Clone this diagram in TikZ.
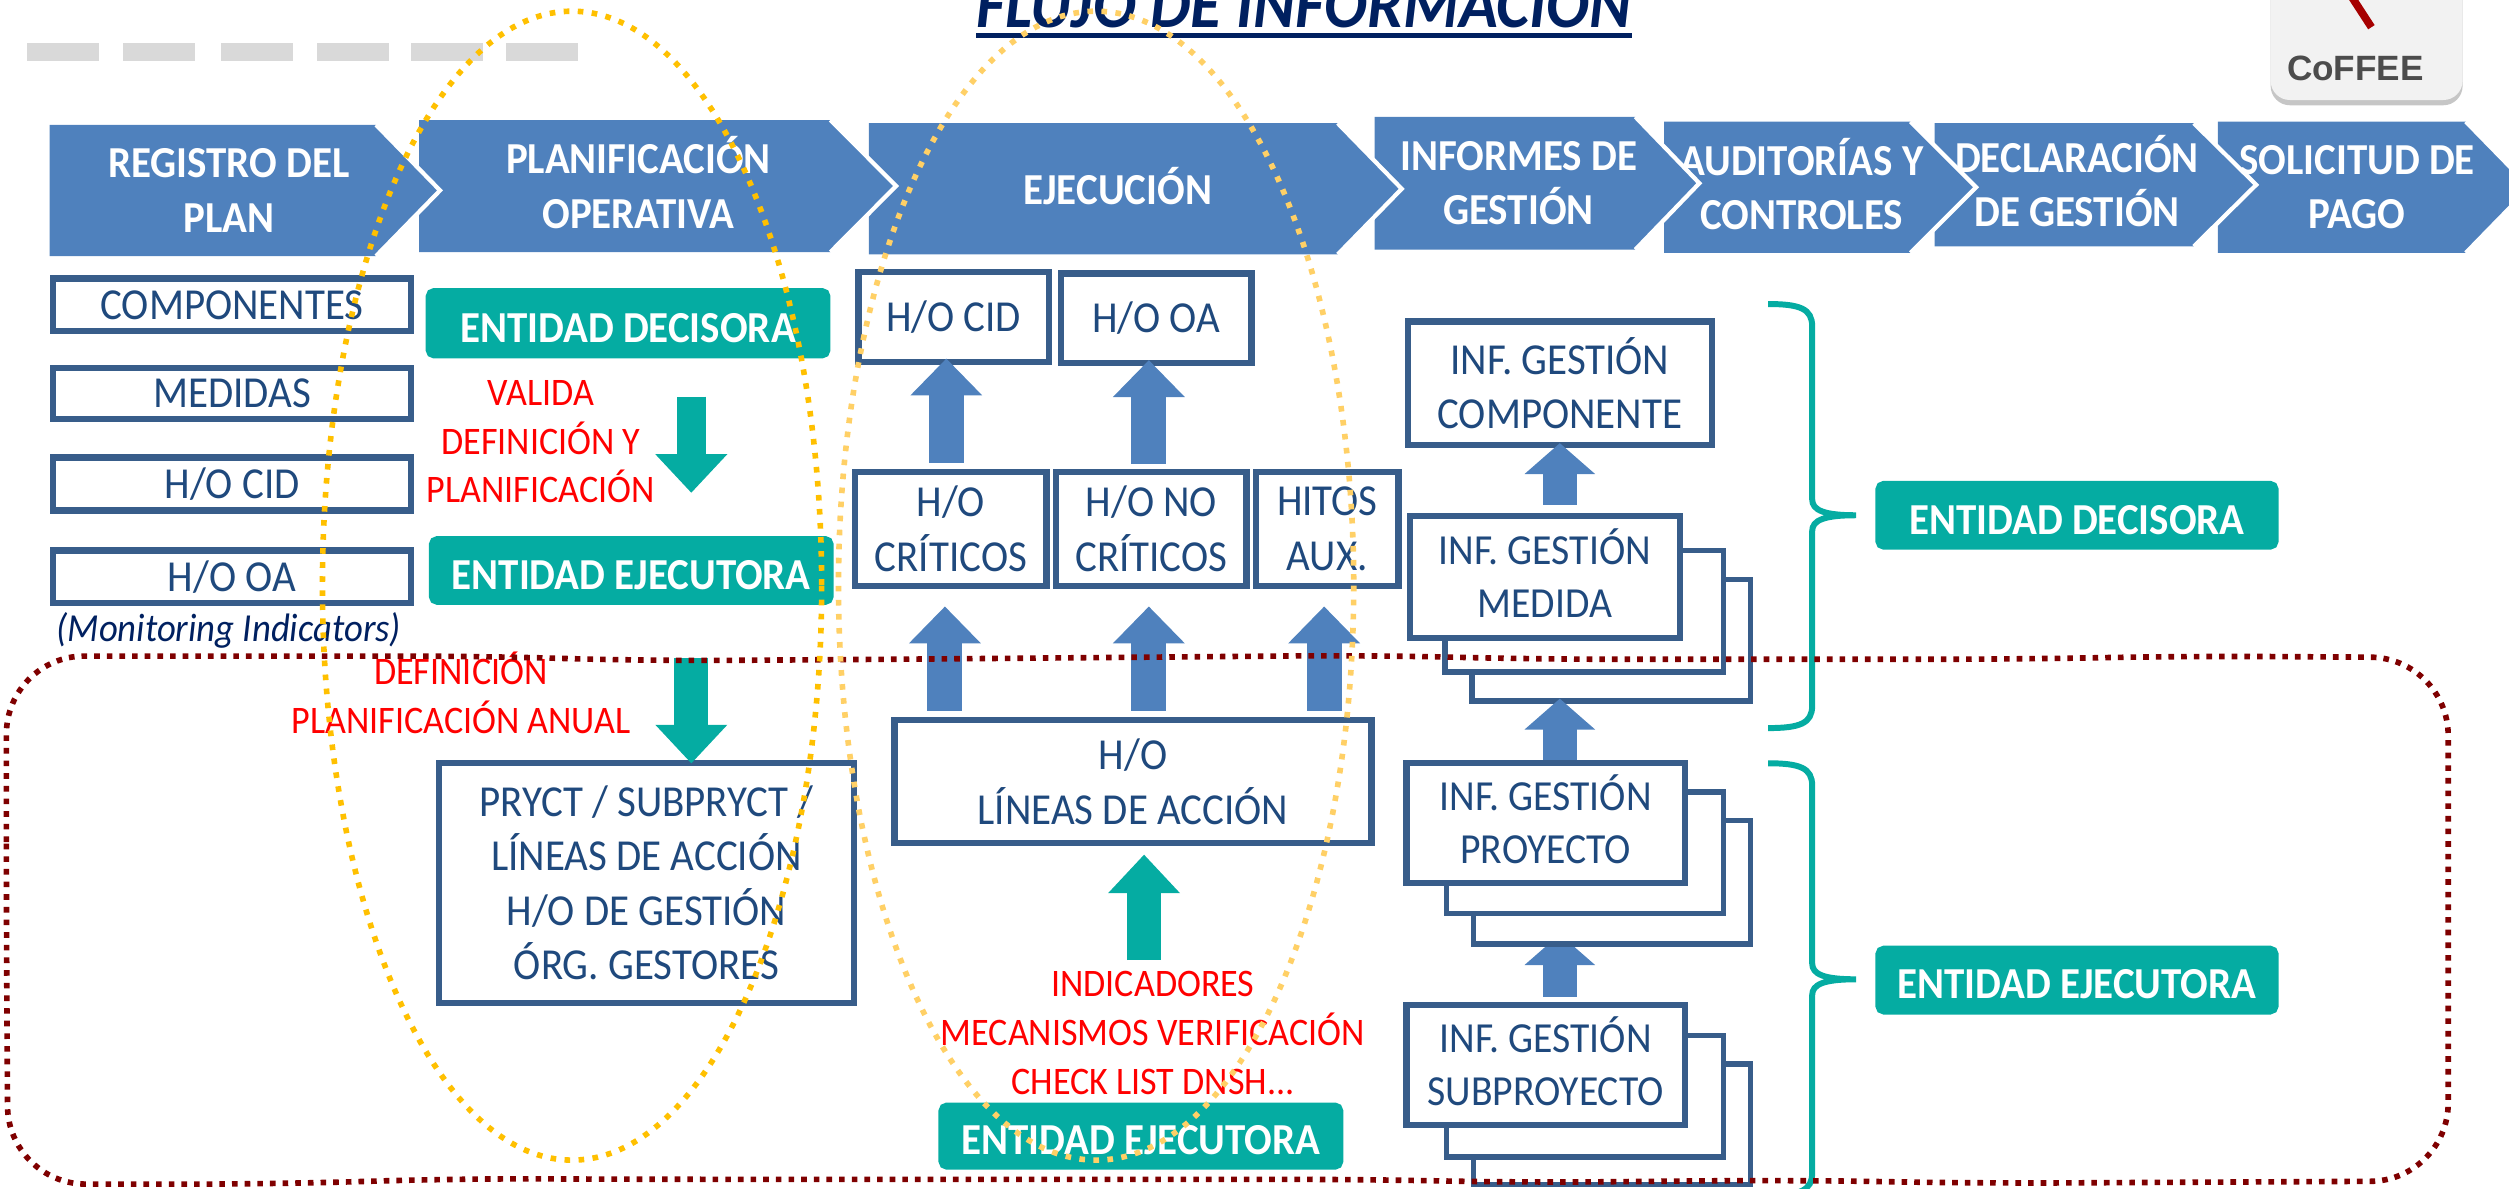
\documentclass[tikz,border=0pt]{standalone}
\usepackage{fontspec}
\setmainfont[FakeStretch=0.925]{Carlito}
\newfontfamily\tilefont{Liberation Sans}
\usetikzlibrary{arrows.meta,shapes.geometric,shadows,backgrounds}
\definecolor{chevblue}{HTML}{4F81BD}
\definecolor{boxnavy}{HTML}{385D8A}
\definecolor{boxtext}{HTML}{1F497D}
\definecolor{titlenavy}{HTML}{002060}
\definecolor{tealgreen}{HTML}{05ACA2}
\definecolor{loopred}{HTML}{7F0000}
\definecolor{ringgold}{HTML}{FFC000}
\definecolor{ringpale}{HTML}{FFD066}
\definecolor{dashgray}{HTML}{D9D9D9}
\def\pxu{0.016cm}
\tikzset{
  wh/.style 2 args={minimum width=#1*\pxu-1.8pt,minimum height=#2*\pxu-1.8pt},
  chevtxt/.style={text=white,font=\fontsize{12.6}{15.5}\selectfont\bfseries,align=center,inner sep=0pt},
  infobox/.style={draw=boxnavy,line width=1.8pt,fill=white,text=boxtext,inner sep=0pt,align=center,
    font=\fontsize{12.6}{15.5}\selectfont},
  stackback/.style={draw=boxnavy,line width=1.5pt,fill=white},
  stackfront/.style={infobox,text depth=2.3pt,font=\fontsize{12.2}{15}\selectfont},
  tealbox/.style={draw=tealgreen,line width=1.8pt,fill=tealgreen,rounded corners=1.5pt,text=white,inner sep=0pt,
    align=center,text height=10.8pt,font=\fontsize{12.6}{14}\selectfont\bfseries},
  redtxt/.style={text=red,align=center,inner sep=0pt,font=\fontsize{11.1}{13.9}\selectfont},
  upblue/.style={chevblue,line width=10pt,-{Triangle[width=19.8pt,length=10.5pt]}},
  upsmall/.style={chevblue,line width=9.8pt,-{Triangle[width=19.6pt,length=8.8pt]}},
  upteal/.style={tealgreen,line width=9.6pt,-{Triangle[width=19.8pt,length=11pt]}},
  bracket/.style={tealgreen,line width=1.7pt},
  ring/.style={line width=1.6pt,dash pattern=on 1.6pt off 2.4pt}
}
\begin{document}
\begin{tikzpicture}[x=0.016cm,y=-0.016cm]
  \useasboundingbox (0,0) rectangle (1568,743);
  \clip (0,0) rectangle (1568,743);

  % Top strip
  \foreach \x in {17,77,138,198,257,316}
    \fill[dashgray] (\x,27) rectangle (\x+45,38);
  \node[anchor=base,text=titlenavy,inner sep=0pt,font=\fontsize{19.7}{22}\selectfont\bfseries\itshape] (title) at (815,17) {FLUJO DE INFORMACIÓN};
  \draw[titlenavy,line width=1.4pt] (610,22) -- (1020,22);
  \node[fill=black!5,rounded corners=5.5pt,minimum width=120*\pxu,minimum height=85*\pxu,
    drop shadow={shadow xshift=0pt,shadow yshift=-1.5pt,opacity=.45}] (tile) at (1479,20) {};
  \draw[red!65!black,line width=2.2pt] (1469,-3) -- (1482,17);
  \node[text=black!70,inner sep=0pt,font=\tilefont\fontsize{10}{12}\selectfont\bfseries] (tilename) at (1472,43) {CoFFEE};

  % Chevrons, last one first
  \foreach \nm/\lf/\tp/\sh/\ti/\bt/\cx/\cy/\txt in {
    chevpago/1386/76/1541/1581/158/1473/117/{SOLICITUD DE\\PAGO},
    chevdecl/1209/77/1371/1410/154/1298/113/{DECLARACIÓN\\DE GESTIÓN},
    chevaudi/1040/76/1194/1235/158/1126/115/{AUDITORÍAS Y\\CONTROLES},
    chevinfo/859/73/1022/1062/156/949/114.5/{INFORMES DE\\GESTIÓN},
    chevejec/543/77/836/876/159/698.5/116/{EJECUCIÓN},
    chevplan/262/75/519/560/157.5/399/114/{PLANIFICACIÓN\\OPERATIVA},
    chevregi/31/78/235/275/160/143/119/{REGISTRO DEL\\PLAN}}
  {
    \fill[chevblue] (\lf,\tp) -- (\sh,\tp) -- (\ti,{(\tp+\bt)/2}) -- (\sh,\bt) -- (\lf,\bt) -- cycle;
    \draw[white,line width=1.2pt] (\sh,\tp) -- (\ti,{(\tp+\bt)/2}) -- (\sh,\bt);
    \node[chevtxt] (\nm) at (\cx,\cy) {\txt};
  }

  % Registro
  \node[infobox,wh={228}{37}] (comp) at (145,190.5) {COMPONENTES};
  \node[infobox,wh={228}{36}] (medi) at (145,246) {MEDIDAS};
  \node[infobox,wh={228}{37}] (hcid) at (145,302.5) {H/O CID};
  \node[infobox,wh={228}{37}] (hooa) at (145,360.5) {H/O OA};
  \node[text=titlenavy,inner sep=0pt,font=\fontsize{11.3}{13}\selectfont\itshape] (moni) at (143,394) {(Monitoring Indicators)};

  % Planificacion
  \node[tealbox,wh={253}{44}] (deci) at (392.5,202) {ENTIDAD DECISORA};
  \node[tealbox,wh={253}{43}] (ejec) at (394.5,356.5) {ENTIDAD EJECUTORA};
  \node[redtxt] (vali) at (338,276) {VALIDA\\DEFINICIÓN Y\\PLANIFICACIÓN};
  \node[redtxt] (defi) at (288,433) {DEFINICIÓN\\PLANIFICACIÓN ANUAL};
  \node[infobox,wh={263}{154}] (prct) at (404,551.7) {PRYCT / SUBPRYCT /\\LÍNEAS DE ACCIÓN\\H/O DE GESTIÓN\\ÓRG. GESTORES};
  \draw[upteal,line width=8.4pt,transform canvas={xshift=18pt},shorten <=10.9pt,shorten >=12.3pt] (deci.south) -- (deci.south |- ejec.north);
  \draw[upteal,transform canvas={xshift=17.1pt},shorten <=15pt,shorten >=-1.1pt] (ejec.south) -- (ejec.south |- prct.north);

  % Ejecucion
  \node[infobox,wh={123}{60}] (ecid) at (596,198) {H/O CID};
  \node[infobox,wh={123}{60}] (eooa) at (722.5,199) {H/O OA};
  \node[infobox,wh={123.5}{75}] (crit) at (594.25,330.5) {H/O\\CRÍTICOS};
  \node[infobox,wh={123}{75}] (ncri) at (719.5,330.5) {H/O NO\\CRÍTICOS};
  \node[infobox,wh={93}{75}] (hito) at (829.5,330.5) {HITOS\\AUX.};
  \node[infobox,wh={302}{81}] (line) at (708,488.5) {H/O\\LÍNEAS DE ACCIÓN};
  \node[redtxt] (indi) at (720.5,645.5) {INDICADORES\\MECANISMOS VERIFICACIÓN\\CHECK LIST DNSH...};
  \node[tealbox,wh={253}{42}] (ejeb) at (713,710) {ENTIDAD EJECUTORA};
  \draw[upblue,transform canvas={xshift=-1.3pt},shorten <=1.8pt,shorten >=-1.8pt] (crit.north) -- (crit.north |- ecid.south);
  \draw[upblue,transform canvas={xshift=-0.7pt},shorten <=1.4pt,shorten >=-1.8pt] (ncri.north) -- (ncri.north |- eooa.south);
  \draw[upblue,transform canvas={xshift=-1.7pt},shorten <=1.8pt,shorten >=5pt] (crit.south |- line.north) -- (crit.south);
  \draw[upblue,transform canvas={xshift=-0.7pt},shorten <=1.8pt,shorten >=5pt] (ncri.south |- line.north) -- (ncri.south);
  \draw[upblue,transform canvas={xshift=-0.9pt},shorten <=1.8pt,shorten >=5pt] (hito.south |- line.north) -- (hito.south);
  \draw[upteal,transform canvas={xshift=0.9pt},shorten <=40.5pt,shorten >=2.3pt] (ejeb.north) -- (ejeb.north |- line.south);

  % Informes
  \node[infobox,wh={194}{81}] (infc) at (974.8,239.5) {INF. GESTIÓN\\COMPONENTE};
  \node[stackback,wh={178}{80}] (med3) at (1007,400) {};
  \node[stackback,wh={178}{80}] (med2) at (990,382) {};
  \node[stackfront,wh={173}{80}] (infm) at (965.5,360.5) {INF. GESTIÓN\\MEDIDA};
  \node[stackback,wh={177}{81}] (pro3) at (1007.5,551.5) {};
  \node[stackback,wh={177}{80}] (pro2) at (990.5,533) {};
  \node[stackfront,wh={178}{79}] (infp) at (966,514.5) {INF. GESTIÓN\\PROYECTO};
  \node[stackback,wh={177}{79}] (sub3) at (1007.5,702.5) {};
  \node[stackback,wh={177}{80}] (sub2) at (990.5,685) {};
  \node[stackfront,wh={178}{79}] (infs) at (966,665.5) {INF. GESTIÓN\\SUBPROYECTO};
  \draw[upsmall,shorten <=2.3pt,shorten >=-1.4pt] (infc.south |- infm.north) -- (infc.south);
  \draw[upsmall,shorten <=0pt,shorten >=-1.4pt] (infc.south |- infp.north) -- (infc.south |- med3.south);
  \begin{pgfonlayer}{background}
    \draw[upsmall,shorten <=1.4pt,shorten >=-3.6pt] (infc.south |- infs.north) -- (infc.south |- pro3.south);
  \end{pgfonlayer}

  % Braces
  \foreach \tp/\md/\bt in {190/322/455,477/612/747}
    \draw[bracket] (1105,\tp) .. controls (1125,\tp) and (1132.5,\tp+3) .. (1132.5,\tp+14)
      -- (1132.5,\md-10) .. controls (1132.5,\md-3) and (1140,\md) .. (1160,\md)
      .. controls (1140,\md) and (1132.5,\md+3) .. (1132.5,\md+10)
      -- (1132.5,\bt-14) .. controls (1132.5,\bt-3) and (1125,\bt) .. (1105,\bt);
  \node[tealbox,wh={252}{43}] (rdec) at (1298,322) {ENTIDAD DECISORA};
  \node[tealbox,wh={252}{43}] (reje) at (1298,612.5) {ENTIDAD EJECUTORA};

  % Dotted outlines
  \draw[loopred,line width=1.6pt,dash pattern=on 1.6pt off 2pt,rounded corners=0.78cm]
    (4,575) -- (4,410) -- (300,410) -- (405,413) -- (560,412) -- (860,409.5) -- (960,412)
    -- (1257,412) -- (1370,410) -- (1530,411) -- (1530,738) -- (1240,739.5) -- (1120,737.5)
    -- (950,739) -- (850,737) -- (400,737) -- (290,736.5) -- (170,740) -- (5,740) -- cycle;
  \draw[ring,ringgold] (357.5,366) ellipse [x radius=156,y radius=359];
  \draw[ring,ringpale] (685,366) ellipse [x radius=161,y radius=359];
\end{tikzpicture}
\end{document}
